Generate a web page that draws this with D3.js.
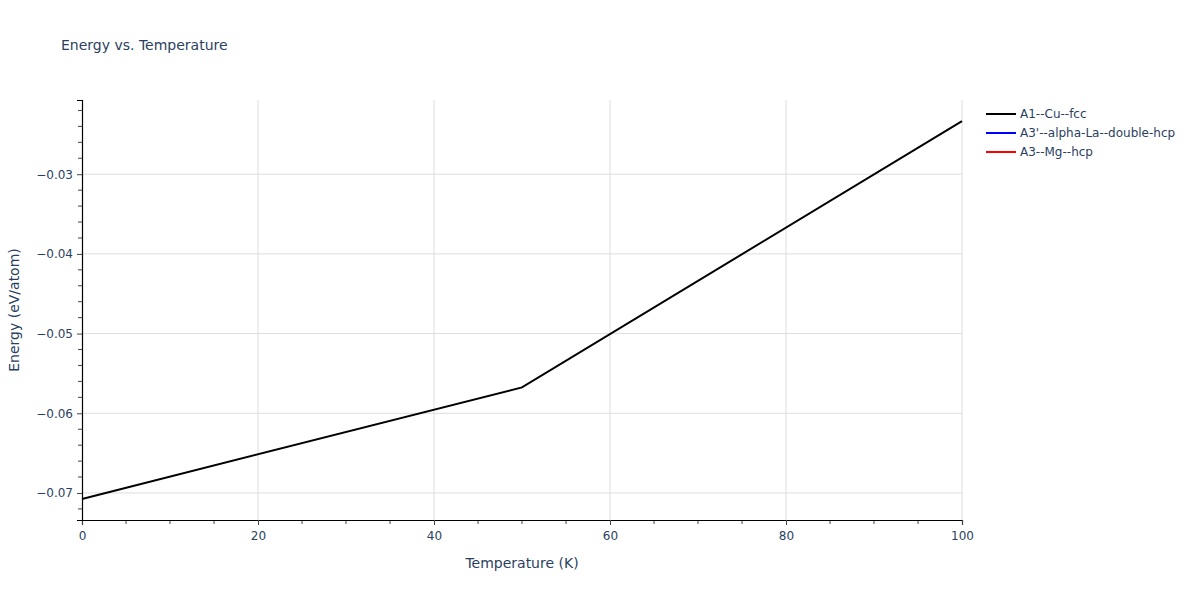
<!DOCTYPE html>
<html>
<head>
<meta charset="utf-8">
<script src="https://cdn.jsdelivr.net/npm/d3@7"></script>
<style>
  body { margin: 0; background: #fff; }
  svg text { font-family: "DejaVu Sans", Verdana, sans-serif; fill: #2a3f5f; }
</style>
</head>
<body>
<svg id="chart" width="1200" height="600"></svg>
<script>
// series data
var temperature = [0, 50, 100];
var energyCu = [-0.07075, -0.05675, -0.02333];
var energyLa = [];
var energyMg = [];

var seriesNames = ["A1--Cu--fcc", "A3'--alpha-La--double-hcp", "A3--Mg--hcp"];
var seriesColors = ["#000000", "#0000ff", "#ff0000"];
var seriesValues = [energyCu, energyLa, energyMg];

var xTicks = [0, 20, 40, 60, 80, 100];
var yTicks = [-0.07, -0.06, -0.05, -0.04, -0.03];

var margin = { left: 82, right: 238, top: 100, bottom: 80 };
var W = 1200, H = 600;
var pw = W - margin.left - margin.right;
var ph = H - margin.top - margin.bottom;

var svg = d3.select("#chart");

// autorange like plotly: small padding around the data
var allY = d3.merge(seriesValues);
var ext = d3.extent(allY);
var pad = (ext[1] - ext[0]) * 0.0557;

var x = d3.scaleLinear().domain([0, 100]).range([margin.left, margin.left + pw]);
var y = d3.scaleLinear().domain([ext[0] - pad, ext[1] + pad]).range([margin.top + ph, margin.top]);

// title
svg.append("text")
  .attr("x", 61)
  .attr("y", 50)
  .style("font-size", "14px")
  .text("Energy vs. Temperature");

// grid
var grid = svg.append("g");
grid.selectAll("line.gx")
  .data(xTicks.slice(1))
  .join("line")
  .attr("x1", function (d) { return x(d); })
  .attr("x2", function (d) { return x(d); })
  .attr("y1", margin.top)
  .attr("y2", margin.top + ph)
  .attr("stroke", "#dddddd")
  .attr("stroke-width", 1);
grid.selectAll("line.gy")
  .data(yTicks)
  .join("line")
  .attr("x1", margin.left)
  .attr("x2", margin.left + pw)
  .attr("y1", function (d) { return y(d); })
  .attr("y2", function (d) { return y(d); })
  .attr("stroke", "#dddddd")
  .attr("stroke-width", 1);

// minor ticks
var xMinor = d3.range(0, 100.001, 5).filter(function (v) { return v % 20 !== 0; });
var yMinor = d3.range(-0.074, -0.0199, 0.002).filter(function (v) {
  var r = Math.abs(Math.round(v * 1000)) % 10;
  return r !== 0 && v >= y.domain()[0] && v <= y.domain()[1];
});

svg.append("g")
  .selectAll("line")
  .data(xMinor)
  .join("line")
  .attr("x1", function (d) { return x(d); })
  .attr("x2", function (d) { return x(d); })
  .attr("y1", margin.top + ph)
  .attr("y2", margin.top + ph + 4)
  .attr("stroke", "#444")
  .attr("stroke-width", 1);

svg.append("g")
  .selectAll("line")
  .data(yMinor)
  .join("line")
  .attr("x1", margin.left - 4)
  .attr("x2", margin.left)
  .attr("y1", function (d) { return y(d); })
  .attr("y2", function (d) { return y(d); })
  .attr("stroke", "#444")
  .attr("stroke-width", 1);

// axes
var xAxis = d3.axisBottom(x).tickValues(xTicks).tickSize(5).tickPadding(6).tickFormat(d3.format("d"));
var yAxis = d3.axisLeft(y).tickValues(yTicks).tickSize(5).tickPadding(4)
  .tickFormat(function (d) { return d3.format(".2f")(d).replace("-", "\u2212"); });

var gx = svg.append("g").attr("transform", "translate(0," + (margin.top + ph) + ")").call(xAxis);
var gy = svg.append("g").attr("transform", "translate(" + margin.left + ",0)").call(yAxis);

[gx, gy].forEach(function (g) {
  g.select(".domain").attr("stroke", "#000").attr("stroke-width", 1.2);
  g.selectAll(".tick line").attr("stroke", "#444");
  g.selectAll(".tick text").style("font-size", "12px").attr("fill", "#2a3f5f");
});

// axis titles
svg.append("text")
  .attr("x", margin.left + pw / 2)
  .attr("y", 568)
  .attr("text-anchor", "middle")
  .style("font-size", "14px")
  .text("Temperature (K)");

svg.append("text")
  .attr("transform", "translate(19," + (margin.top + ph / 2) + ") rotate(-90)")
  .attr("text-anchor", "middle")
  .style("font-size", "14px")
  .text("Energy (eV/atom)");

// lines
var line = d3.line()
  .x(function (d) { return x(d[0]); })
  .y(function (d) { return y(d[1]); });

seriesValues.forEach(function (vals, i) {
  if (!vals.length) return;
  var pts = vals.map(function (v, j) { return [temperature[j], v]; });
  svg.append("path")
    .datum(pts)
    .attr("fill", "none")
    .attr("stroke", seriesColors[i])
    .attr("stroke-width", 2)
    .attr("d", line);
});

// legend
var leg = svg.append("g").attr("transform", "translate(986,114)");
var item = leg.selectAll("g")
  .data(seriesNames)
  .join("g")
  .attr("transform", function (d, i) { return "translate(0," + i * 19 + ")"; });
item.append("line")
  .attr("x1", 0)
  .attr("x2", 30)
  .attr("stroke", function (d, i) { return seriesColors[i]; })
  .attr("stroke-width", 2);
item.append("text")
  .attr("x", 34)
  .attr("dy", "0.35em")
  .style("font-size", "12px")
  .text(function (d) { return d; });
</script>
</body>
</html>
